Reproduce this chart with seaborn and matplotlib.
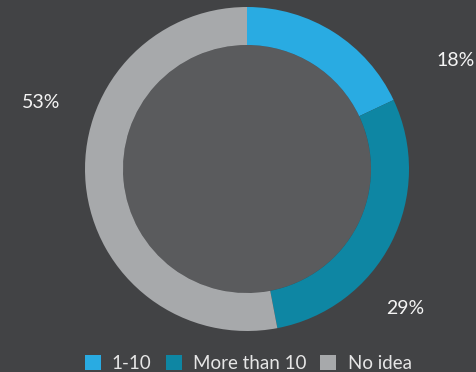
import matplotlib
matplotlib.use("Agg")
import matplotlib.pyplot as plt
from matplotlib.patches import Patch, Circle
import seaborn as sns

# Survey answers
categories = ["1-10", "More than 10", "No idea"]
shares = [18, 29, 53]
colors = ["#29abe2", "#0e86a3", "#a7a9ab"]

sns.set_theme(style="dark")
plt.rcParams["font.family"] = ["Lato", "DejaVu Sans"]

BG = "#424345"
TXT = "#f4f4f4"

fig = plt.figure(figsize=(4.77, 3.72), dpi=100, facecolor=BG)
ax = fig.add_axes([0, 0, 1, 1])
ax.set_facecolor(BG)

cx, cy, r = 247, 203, 162
wedges, _ = ax.pie(
    shares, colors=colors, startangle=90, counterclock=False,
    center=(cx, cy), radius=r, frame=True,
    wedgeprops=dict(width=38, linewidth=0),
)
ax.add_patch(Circle((cx, cy), r - 38, facecolor="#5a5b5d", linewidth=0, zorder=0.5))
ax.set_xlim(0, 477)
ax.set_ylim(0, 372)
ax.set_aspect("equal")
ax.axis("off")

label_pos = [(456, 312), (405, 64), (41, 269)]
for (x, y), v in zip(label_pos, shares):
    ax.text(x, y, f"{v}%", color=TXT, fontsize=14,
            ha="center", va="center")

handles = [Patch(facecolor=c, edgecolor="none", label=l) for c, l in zip(colors, categories)]
leg = ax.legend(handles=handles, loc="lower center", bbox_to_anchor=(0.52, -0.045),
                ncol=3, frameon=False, handlelength=0.85, handleheight=0.85,
                handletextpad=0.6, columnspacing=0.75, fontsize=13.5)
for t in leg.get_texts():
    t.set_color("#e6e6e6")

fig.savefig("out.png", dpi=100, facecolor=BG)
